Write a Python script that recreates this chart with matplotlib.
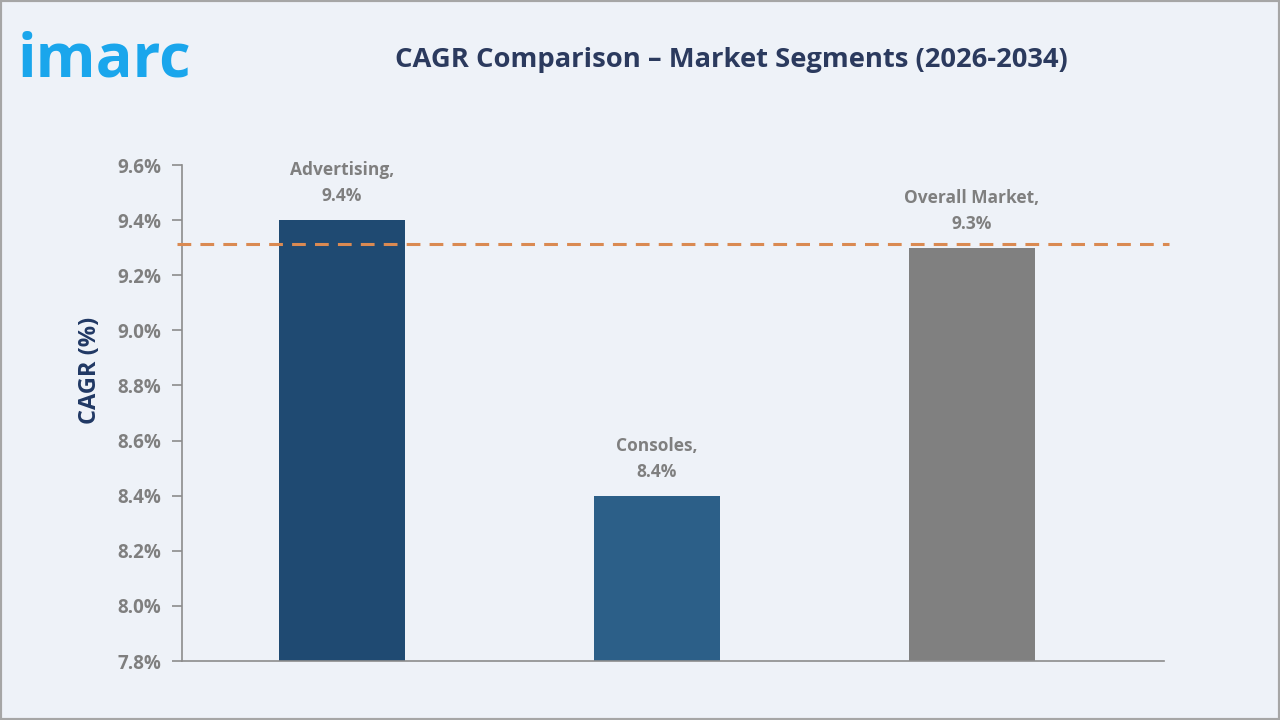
import matplotlib
matplotlib.use("Agg")
import matplotlib.pyplot as plt
from matplotlib.patches import Rectangle
from matplotlib.ticker import FuncFormatter, MultipleLocator

plt.rcParams['font.family'] = ['Open Sans', 'DejaVu Sans']

# data
categories = ["Advertising", "Consoles", "Overall Market"]
cagr = [9.4, 8.4, 9.3]
bar_colors = ["#1F4A72", "#2C5F88", "#808080"]
overall_line = 9.315

BG = "#EEF2F8"
GREY = "#7F7F7F"
NAVY = "#203864"

fig = plt.figure(figsize=(12.8, 7.2), dpi=100, facecolor=BG)
ax = fig.add_axes([0.1422, 0.0819, 0.767, 0.6889], facecolor=BG)

x = range(len(categories))
ax.bar(x, cagr, width=0.4, color=bar_colors, zorder=2)
ax.axhline(overall_line, color="#DA8A52", lw=2.2, dashes=(4.5, 3), zorder=3,
           xmin=-0.005, xmax=1.005, clip_on=False)

for xi, (c, v) in enumerate(zip(categories, cagr)):
    ax.text(xi, v + 0.055, f"{c},\n{v:.1f}%", ha="center", va="bottom",
            fontsize=12.5, fontweight="bold", color=GREY, linespacing=1.55)

ax.set_xlim(-0.508, 2.61)
ax.set_ylim(7.8, 9.6)
ax.yaxis.set_major_locator(MultipleLocator(0.2))
ax.yaxis.set_major_formatter(FuncFormatter(lambda v, p: f"{v:.1f}%"))
ax.set_xticks([])
for s in ("top", "right"):
    ax.spines[s].set_visible(False)
for s in ("left", "bottom"):
    ax.spines[s].set_color("#8C8C8C")
    ax.spines[s].set_linewidth(1.2)
ax.tick_params(axis="y", colors="#8C8C8C", length=7, width=1.2, pad=8,
               labelsize=13.5, labelcolor=GREY)
for lab in ax.get_yticklabels():
    lab.set_fontweight("bold")
ax.set_ylabel("CAGR (%)", fontsize=17, fontweight="bold", color=NAVY)
ax.yaxis.set_label_coords(-0.081, 0.587)

fig.text(0.571, 0.917, "CAGR Comparison \u2013 Market Segments (2026-2034)",
         ha="center", va="center", fontsize=19.7, fontweight="bold", color="#2B3A5E")
fig.text(0.014, 0.915, "imarc", ha="left", va="center", fontsize=44,
         fontweight="bold", color="#1AA6EC")

fig.patches.append(Rectangle((0, 0), 1, 1, transform=fig.transFigure, fill=False,
                             edgecolor="#A6A6A6", lw=3))

fig.savefig("out.png", dpi=100, facecolor=BG)
